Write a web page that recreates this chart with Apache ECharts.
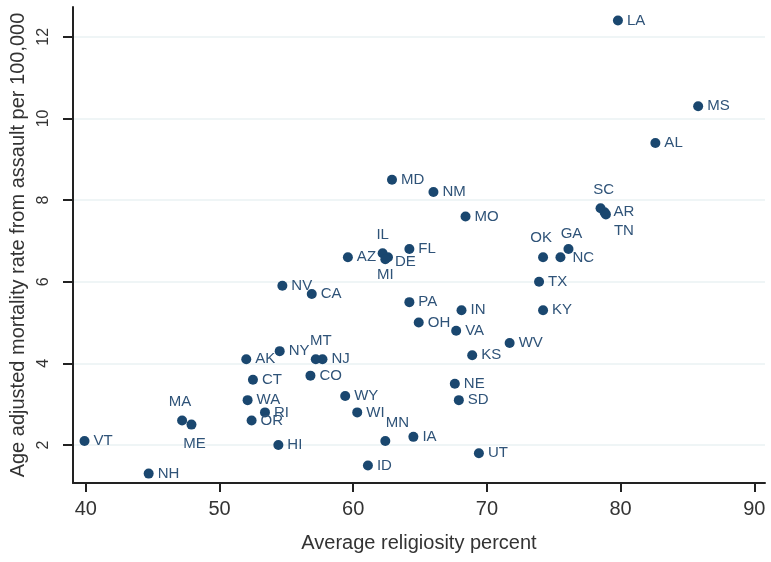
<!DOCTYPE html>
<html>
<head>
<meta charset="utf-8">
<script src="https://cdn.jsdelivr.net/npm/echarts@6/dist/echarts.min.js"></script>
<style>
  html, body { margin: 0; padding: 0; background: #fff; }
  #chart { width: 771px; height: 562px; }
</style>
</head>
<body>
<div id="chart"></div>
<script>
// state codes, religiosity (x) and assault mortality (y)
var states = ['LA','MS','AL','SC','AR','TN','GA','NC','OK','TX','KY','WV','KS','IN','VA','OH','PA',
    'NE','SD','UT','IA','MN','ID','WI','WY','CO','NJ','MT','CA','NV','NY','AK','CT','WA','RI','OR',
    'HI','MA','ME','VT','NH','MD','NM','MO','FL','IL','DE','MI','AZ'];
var religiosity = [79.8, 85.8, 82.6, 78.5, 78.8, 78.9, 76.1, 75.5, 74.2, 73.9, 74.2, 71.7, 68.9, 68.1, 67.7, 64.9, 64.2,
    67.6, 67.9, 69.4, 64.5, 62.4, 61.1, 60.3, 59.4, 56.8, 57.7, 57.2, 56.9, 54.7, 54.5, 52.0, 52.5, 52.1, 53.4, 52.4,
    54.4, 47.2, 47.9, 39.9, 44.7, 62.9, 66.0, 68.4, 64.2, 62.2, 62.6, 62.4, 59.6];
var mortality = [12.4, 10.3, 9.4, 7.8, 7.7, 7.65, 6.8, 6.6, 6.6, 6.0, 5.3, 4.5, 4.2, 5.3, 4.8, 5.0, 5.5,
    3.5, 3.1, 1.8, 2.2, 2.1, 1.5, 2.8, 3.2, 3.7, 4.1, 4.1, 5.7, 5.9, 4.3, 4.1, 3.6, 3.1, 2.8, 2.6,
    2.0, 2.6, 2.5, 2.1, 1.3, 8.5, 8.2, 7.6, 6.8, 6.7, 6.6, 6.55, 6.6];
var xTicks = [40, 50, 60, 70, 80, 90];
var yTicks = [2, 4, 6, 8, 10, 12];

var dot = 10;
// label spot relative to the marker centre, for labels not sitting at the right
var place = function (dx, dy, align) {
    return {position: [dot / 2 + dx, dot / 2 + dy], align: align || 'center', verticalAlign: 'middle'};
};
var labelPlace = {
    SC: place(3, -18),
    TN: place(8, 16, 'left'),
    GA: place(3, -15),
    OK: place(-2, -19),
    IL: place(0, -18),
    MI: place(0, 16),
    DE: place(7, 5, 'left'),
    NC: place(12, 1, 'left'),
    MT: place(5, -18),
    MN: place(12, -18),
    MA: place(-2, -19),
    ME: place(3, 19)
};

var ink = '#1a476f';
var labelInk = '#2f5378';
var font = '"Liberation Sans", Arial, sans-serif';

var points = [];
for (var i = 0; i < states.length; i++) {
    var item = {name: states[i], value: [religiosity[i], mortality[i]]};
    if (labelPlace[states[i]]) item.label = labelPlace[states[i]];
    points.push(item);
}

var chart = echarts.init(document.getElementById('chart'));
chart.setOption({
    animation: false,
    backgroundColor: '#fff',
    grid: {left: 73, right: 6, top: 7, bottom: 79},
    xAxis: {
        type: 'value',
        min: 39.04,
        max: 90.8,
        name: 'Average religiosity percent',
        nameLocation: 'middle',
        nameGap: 50,
        nameTextStyle: {fontFamily: font, fontSize: 20, color: '#333', verticalAlign: 'top'},
        axisLine: {show: true, lineStyle: {color: '#222', width: 2}},
        axisTick: {show: true, length: 9, customValues: xTicks, lineStyle: {color: '#222', width: 2}},
        axisLabel: {customValues: xTicks, margin: 16, fontFamily: font, fontSize: 20, color: '#333'},
        splitLine: {show: false}
    },
    yAxis: {
        type: 'value',
        min: 1.07,
        max: 12.73,
        name: 'Age adjusted mortality rate from assault per 100,000',
        nameLocation: 'middle',
        nameRotate: 90,
        nameGap: 43,
        nameTextStyle: {fontFamily: font, fontSize: 20, color: '#333'},
        axisLine: {show: true, lineStyle: {color: '#222', width: 2}},
        axisTick: {show: true, length: 10, customValues: yTicks, lineStyle: {color: '#222', width: 2}},
        axisLabel: {customValues: yTicks, rotate: 90, margin: 21, fontFamily: font, fontSize: 16, color: '#333'},
        splitLine: {show: false}
    },
    series: [{
        type: 'scatter',
        symbolSize: dot,
        itemStyle: {color: ink, opacity: 1},
        label: {
            show: true,
            position: 'right',
            distance: 4,
            formatter: '{b}',
            fontFamily: font,
            fontSize: 15,
            color: labelInk
        },
        labelLayout: {hideOverlap: false},
        markLine: {
            silent: true,
            symbol: 'none',
            label: {show: false},
            lineStyle: {color: '#eaf2f3', width: 1.5, type: 'solid'},
            z: 0,
            data: yTicks.map(function (v) { return {yAxis: v}; })
        },
        data: points
    }]
});
</script>
</body>
</html>
